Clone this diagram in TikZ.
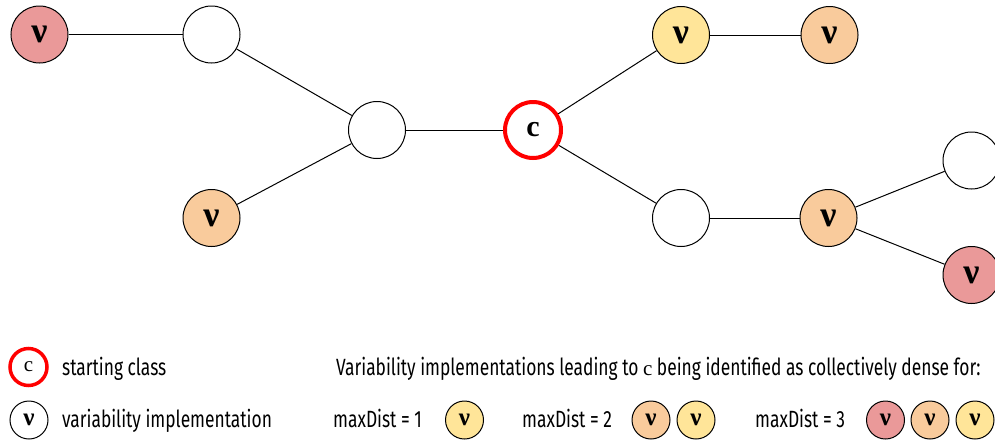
\documentclass[tikz,border=0pt]{standalone}
\usepackage{fontspec}
\setmainfont{Liberation Serif}
\newfontfamily\lgfont[FakeStretch=0.74]{Fira Sans}
\definecolor{cred}{HTML}{EA9999}
\definecolor{corange}{HTML}{F9CB9C}
\definecolor{cyellow}{HTML}{FFE599}
\definecolor{cborder}{HTML}{FF0000}
\tikzset{
  vnode/.style={circle, draw=black, line width=1pt, minimum size=57pt, inner sep=0pt, font=\fontsize{36}{36}\selectfont\bfseries},
  cnode/.style={circle, draw=cborder, line width=4pt, minimum size=56pt, inner sep=0pt, fill=white, font=\fontsize{30}{30}\selectfont\bfseries},
  lvnode/.style={circle, draw=black, line width=1pt, minimum size=38pt, inner sep=0pt, font=\fontsize{25}{25}\selectfont\bfseries},
  lcnode/.style={circle, draw=cborder, line width=3.5pt, minimum size=37pt, inner sep=0pt, font=\fontsize{21}{21}\selectfont},
  edge/.style={draw=black, line width=1pt},
  lgtext/.style={anchor=base west, inner sep=0pt, font=\lgfont\fontsize{23.5}{23.5}\selectfont},
}
\begin{document}
\begin{tikzpicture}[x=1pt,y=-1pt]
\useasboundingbox (0,0) rectangle (995,442);
\clip (0,0) rectangle (995,442);
% graph nodes
\node[vnode, fill=cred] (n1) at (39.5,34.5) {ν};
\node[vnode, fill=white] (n2) at (211.5,34.5) {};
\node[vnode, fill=white] (n3) at (377,130) {};
\node[vnode, fill=corange] (n4) at (211.5,218) {ν};
\node[cnode] (c) at (533,130) {c};
\node[vnode, fill=cyellow] (n5) at (681,35) {ν};
\node[vnode, fill=corange] (n6) at (829.5,35) {ν};
\node[vnode, fill=white] (n7) at (681,218) {};
\node[vnode, fill=corange] (n8) at (828.5,218) {ν};
\node[vnode, fill=white] (n9) at (971.5,160.5) {};
\node[vnode, fill=cred] (n10) at (971.5,275) {ν};
% edges
\draw[edge] (n1) -- (n2);
\draw[edge] (n2) -- (n3);
\draw[edge] (n4) -- (n3);
\draw[edge] (n3) -- (c);
\draw[edge] (c) -- (n5);
\draw[edge] (n5) -- (n6);
\draw[edge] (c) -- (n7);
\draw[edge] (n7) -- (n8);
\draw[edge] (n8) -- (n9);
\draw[edge] (n8) -- (n10);
% legend
\node[lcnode] (lc) at (28.5,367) {c};
\node[lvnode, fill=white] (lv) at (29,420) {ν};
\node[lgtext] (t1) at (62,375) {starting class};
\node[lgtext] (t2) at (62,427) {variability implementation};
\node[lgtext] (t3) at (336,375) {Variability implementations leading to {\rmfamily\fontsize{21}{21}\selectfont c} being identified as collectively dense for:};
\node[lgtext] (m1) at (333,427) {maxDist = 1};
\node[lvnode, fill=cyellow] (m1a) at (464.5,420) {ν};
\node[lgtext] (m2) at (522,427) {maxDist = 2};
\node[lvnode, fill=corange] (m2a) at (651,420) {ν};
\node[lvnode, fill=cyellow] (m2b) at (696,420) {ν};
\node[lgtext] (m3) at (755,427) {maxDist = 3};
\node[lvnode, fill=cred] (m3a) at (885.5,420) {ν};
\node[lvnode, fill=corange] (m3b) at (930,420) {ν};
\node[lvnode, fill=cyellow] (m3c) at (975,420) {ν};
\end{tikzpicture}
\end{document}
